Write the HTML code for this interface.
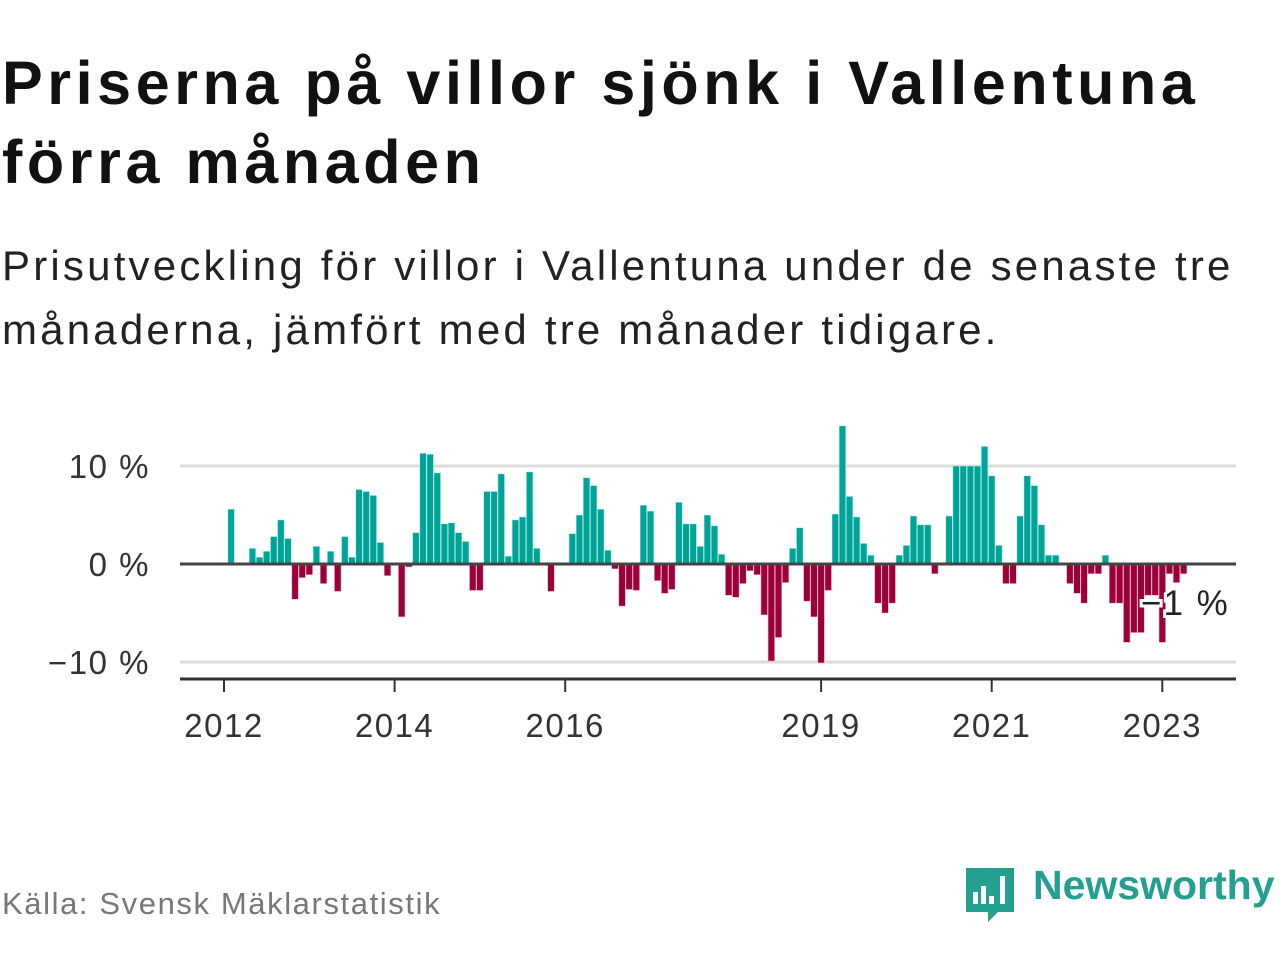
<!DOCTYPE html>
<html><head><meta charset="utf-8">
<style>
body{margin:0;width:1280px;height:960px;background:#fff;font-family:"Liberation Sans",sans-serif;overflow:hidden;position:relative}
.t{position:absolute;left:2px;top:44px;font-size:61px;font-weight:bold;line-height:79px;color:#111;letter-spacing:4.6px}
.s{position:absolute;left:2px;top:234px;font-size:42px;line-height:64px;color:#222;letter-spacing:3.2px}
.src{position:absolute;left:2px;top:886px;font-size:31px;color:#777;letter-spacing:1.6px}
.logo{position:absolute;left:1033px;top:862px;font-size:41px;color:#23a08f;font-weight:bold}
svg{position:absolute;left:0;top:0}
</style></head><body>
<div class="t">Priserna på villor sjönk i Vallentuna<br>förra månaden</div>
<div class="s">Prisutveckling för villor i Vallentuna under de senaste tre<br>månaderna, jämfört med tre månader tidigare.</div>
<svg id="chart" width="1280" height="960"></svg>
<div class="src">Källa: Svensk Mäklarstatistik</div>
<svg width="1280" height="960"><path d="M966 868h48v44h-16l-10 10l-0-10h-22z" fill="#23a08f"/><rect x="973" y="892" width="5" height="12" fill="#fff"/><rect x="981" y="886" width="5" height="18" fill="#fff"/><rect x="989" y="896" width="5" height="8" fill="#fff"/><rect x="1000" y="876" width="5" height="28" fill="#fff"/></svg>
<div class="logo">Newsworthy</div>
<script>
const values=[5.6,0,0,1.6,0.7,1.3,2.8,4.5,2.6,-3.6,-1.4,-1.1,1.8,-2.0,1.3,-2.8,2.8,0.7,7.6,7.4,7.0,2.2,-1.2,0,-5.4,-0.3,3.2,11.3,11.2,9.3,4.1,4.2,3.2,2.3,-2.7,-2.7,7.4,7.4,9.2,0.8,4.5,4.8,9.4,1.6,0,-2.8,0,0,3.1,5.0,8.8,8.0,5.6,1.4,-0.5,-4.3,-2.6,-2.7,6.0,5.4,-1.7,-3.0,-2.6,6.3,4.1,4.1,1.8,5.0,3.9,1.0,-3.2,-3.4,-2.0,-0.7,-1.1,-5.2,-9.9,-7.5,-1.9,1.6,3.7,-3.8,-5.4,-10.1,-2.7,5.1,14.1,6.9,4.8,2.1,0.9,-4.0,-5.0,-4.0,0.9,1.9,4.9,4.0,4.0,-1.0,0,4.9,10,10,10,10,12.0,9.0,1.9,-2.0,-2.0,4.9,9.0,8.0,4.0,0.9,0.9,0,-2.0,-3.0,-4.0,-1.0,-1.0,0.9,-4.0,-4.0,-8.0,-7.0,-7.0,-3.2,-3.2,-8.0,-1.0,-1.9,-1.0];
const startYear=2012;
const xTickYears=[2012,2014,2016,2019,2021,2023];
const yTicks=[10,0,-10];
const yTickLabels=["10 %","0 %","−10 %"];
const lastLabel="−1 %";
const NS="http://www.w3.org/2000/svg";
const svg=document.getElementById('chart');
const mw=85.3/12;
const x=m=>224+m*mw;
const y=v=>564-v*9.8;
function mk(tag,attrs,parent){const e=document.createElementNS(NS,tag);for(const k in attrs)e.setAttribute(k,attrs[k]);(parent||svg).appendChild(e);return e;}
yTicks.forEach((t,i)=>{
 if(t!==0){const g=mk('line',{x1:180,x2:1236,y1:y(t),y2:y(t),stroke:'#dcdcdc','stroke-width':3});
 
 }
 const l=mk('text',{x:150,y:y(t)+12,'text-anchor':'end','font-size':33,fill:'#333','letter-spacing':1.5});
 l.textContent=yTickLabels[i];
 
 
});
values.forEach((v,i)=>{
 if(v===0)return;
 const cx=x(i+1);
 const r=mk('rect',{x:cx-3.3,width:6.6,y:Math.min(y(v),y(0)),height:Math.abs(y(v)-y(0)),fill:v>0?'#00a398':'#9b0038',stroke:v>0?'#b8ede8':'#f0b8c8','stroke-width':0.6});
 
 
});
const z=mk('line',{x1:180,x2:1236,y1:y(0),y2:y(0),stroke:'#444','stroke-width':3});


const ax=mk('line',{x1:180,x2:1236,y1:679,y2:679,stroke:'#333','stroke-width':3});


xTickYears.forEach(yr=>{
 const px=x((yr-startYear)*12);
 const t=mk('line',{x1:px,x2:px,y1:679,y2:692,stroke:'#333','stroke-width':2});
 
 
 const l=mk('text',{x:px,y:737,'text-anchor':'middle','font-size':33,fill:'#333','letter-spacing':1.5});
 l.textContent=yr;
 
 
});
const lv=values[values.length-1];
const ll=mk('text',{x:1141,y:y(lv)+41,'font-size':35,fill:'#222',stroke:'#fff','stroke-width':6,'paint-order':'stroke','letter-spacing':2});
ll.textContent=lastLabel;


</script>
</body></html>
